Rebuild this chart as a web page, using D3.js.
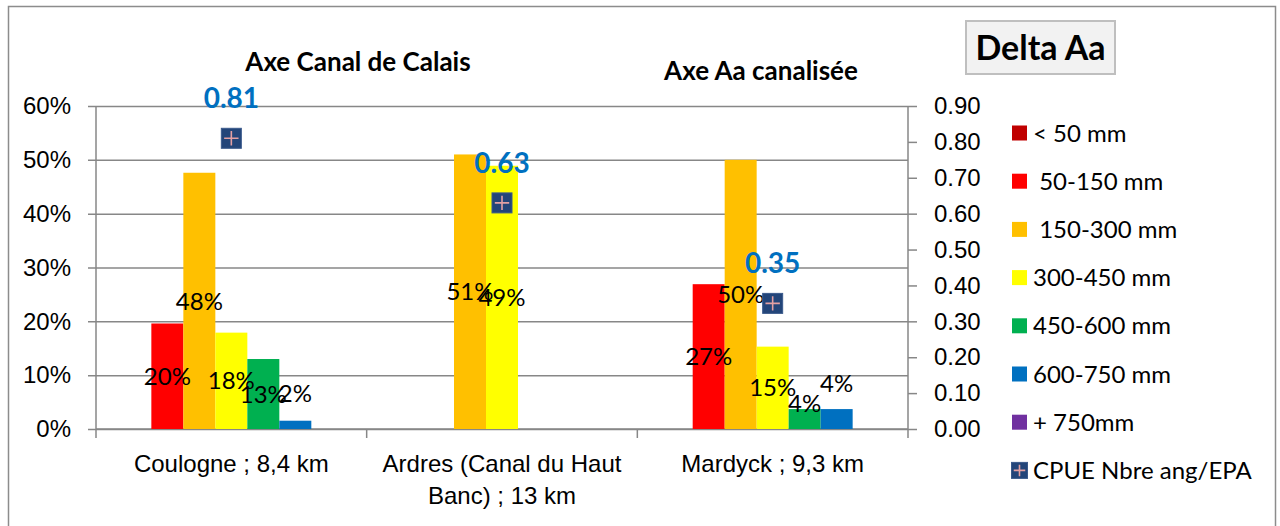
<!DOCTYPE html>
<html>
<head>
<meta charset="utf-8">
<script src="https://cdn.jsdelivr.net/npm/d3@7"></script>
<style>
  body { margin: 0; background: #fff; }
  svg { display: block; font-family: Lato, "Open Sans", sans-serif; }
  text { white-space: pre; }
</style>
</head>
<body>
<svg id="chart" width="1280" height="526"></svg>
<script>
// sites (categories)
const categories = ["Coulogne ; 8,4 km", "Ardres (Canal du Haut Banc) ; 13 km", "Mardyck ; 9,3 km"]
// size classes
const seriesNames = ["< 50 mm", " 50-150 mm", " 150-300 mm", "300-450 mm", "450-600 mm", "600-750 mm", "+ 750mm"]
const seriesColors = ["#C00000", "#FF0000", "#FFC000", "#FFFF00", "#00B050", "#0070C0", "#7030A0"]
// share of each size class, per site
const lt50 = [0, 0, 0]
const s50_150 = [0.196, 0, 0.269]
const s150_300 = [0.476, 0.51, 0.50]
const s300_450 = [0.179, 0.489, 0.153]
const s450_600 = [0.13, 0, 0.037]
const s600_750 = [0.0154, 0, 0.037]
const gt750 = [0, 0, 0]
const seriesValues = [lt50, s50_150, s150_300, s300_450, s450_600, s600_750, gt750]
// CPUE on the right axis
const cpueName = "CPUE Nbre ang/EPA"
const cpue = [0.81, 0.63, 0.35]
const leftTicks = [0, 0.1, 0.2, 0.3, 0.4, 0.5, 0.6]
const rightTicks = [0, 0.1, 0.2, 0.3, 0.4, 0.5, 0.6, 0.7, 0.8, 0.9]

const svg = d3.select("#chart")
const plot = {left: 96, right: 908, top: 106, bottom: 429}
const gridColor = "#878787"
const fontSize = "24px"

// chart frame
svg.append("rect")
    .attr("x", 8.5).attr("y", 6.5)
    .attr("width", 1267).attr("height", 540)
    .attr("fill", "#fff")
    .attr("stroke", "#8c8c8c")
    .attr("stroke-width", 1.5)

const x = d3.scaleBand()
    .domain(categories)
    .range([plot.left, plot.right])
const xSeries = d3.scaleBand()
    .domain(d3.range(seriesNames.length))
    .range([0, x.bandwidth()])
    .paddingOuter(0.73)
const y = d3.scaleLinear().domain([0, 0.6]).range([plot.bottom, plot.top])
const yRight = d3.scaleLinear().domain([0, 0.9]).range([plot.bottom, plot.top])

// gridlines + left axis
const leftAxis = d3.axisLeft(y)
    .tickValues(leftTicks)
    .tickFormat(d3.format(".0%"))
    .tickSize(-(plot.right - plot.left))
    .tickPadding(25)
const gLeft = svg.append("g")
    .attr("transform", `translate(${plot.left},0)`)
    .call(leftAxis)
gLeft.select(".domain").remove()
gLeft.selectAll(".tick line")
    .attr("x1", -8)
    .attr("stroke", gridColor)
    .attr("stroke-width", 1.5)
gLeft.selectAll(".tick text")
    .attr("fill", "#000")
    .style("font-size", fontSize)
svg.append("line")
    .attr("x1", plot.left).attr("x2", plot.left)
    .attr("y1", plot.top).attr("y2", plot.bottom)
    .attr("stroke", gridColor).attr("stroke-width", 1.5)

// right axis
const gRight = svg.append("g")
    .attr("transform", `translate(${plot.right},0)`)
    .call(d3.axisRight(yRight)
        .tickValues(rightTicks)
        .tickFormat(d3.format(".2f"))
        .tickSize(9)
        .tickPadding(17))
gRight.select(".domain")
    .attr("d", `M0,${plot.top}V${plot.bottom}`)
    .attr("stroke", gridColor).attr("stroke-width", 1.5)
gRight.selectAll(".tick line").attr("stroke", gridColor).attr("stroke-width", 1.5)
gRight.selectAll(".tick text")
    .attr("fill", "#000")
    .style("font-size", fontSize)

// x axis
const gBottom = svg.append("g")
    .attr("transform", `translate(0,${plot.bottom})`)
    .call(d3.axisBottom(x).tickSize(0).tickPadding(26))
gBottom.select(".domain")
    .attr("d", `M${plot.left},0H${plot.right}`)
    .attr("stroke", gridColor).attr("stroke-width", 1.5)
gBottom.selectAll(".tick text")
    .attr("fill", "#000")
    .style("font-size", fontSize)
    .each(function (d) {
        // wrap long site names on two lines
        const t = d3.select(this)
        const words = d.split(" ")
        t.text(null)
        let line = []
        let tspan = t.append("tspan").attr("x", 0).attr("dy", "0.71em")
        words.forEach(w => {
            line.push(w)
            tspan.text(line.join(" "))
            if (tspan.node().getComputedTextLength() > 250 && line.length > 1) {
                line.pop()
                tspan.text(line.join(" "))
                line = [w]
                tspan = t.append("tspan").attr("x", 0).attr("dy", "32px").text(w)
            }
        })
    })
svg.append("g")
    .selectAll("line")
    .data([plot.left, ...categories.map(c => x(c) + x.bandwidth())])
    .join("line")
    .attr("x1", d => d).attr("x2", d => d)
    .attr("y1", plot.bottom).attr("y2", plot.bottom + 9)
    .attr("stroke", gridColor).attr("stroke-width", 1.5)

// bars
const barData = []
seriesValues.forEach((vals, s) => {
    vals.forEach((v, c) => barData.push({s: s, c: c, v: v}))
})
svg.append("g")
    .selectAll("rect")
    .data(barData.filter(d => d.v > 0))
    .join("rect")
    .attr("x", d => x(categories[d.c]) + xSeries(d.s))
    .attr("width", xSeries.bandwidth())
    .attr("y", d => y(d.v))
    .attr("height", d => y(0) - y(d.v))
    .attr("fill", d => seriesColors[d.s])

// labels that were dragged up in the original
const labelShift = {"0-5": -31, "2-4": -16, "2-5": -36}
svg.append("g")
    .selectAll("text")
    .data(barData.filter(d => d.v > 0))
    .join("text")
    .attr("x", d => x(categories[d.c]) + xSeries(d.s) + xSeries.bandwidth() / 2)
    .attr("y", d => (y(d.v) + y(0)) / 2 + (labelShift[d.c + "-" + d.s] || 0))
    .attr("dy", "0.36em")
    .attr("text-anchor", "middle")
    .style("font-size", fontSize)
    .text(d => d3.format(".0%")(d.v))

// CPUE markers
const drawMarker = (g, cx, cy, size) => {
    g.append("rect")
        .attr("x", cx - size / 2).attr("y", cy - size / 2)
        .attr("width", size).attr("height", size)
        .attr("fill", "#234579")
        .attr("stroke", "#3b5a8c")
        .attr("stroke-width", 1)
    g.append("path")
        .attr("d", `M${cx - size * 0.36},${cy}H${cx + size * 0.36}M${cx},${cy - size * 0.36}V${cy + size * 0.36}`)
        .attr("stroke", "#E3A0A3")
        .attr("stroke-width", 1.6)
}
const cpueG = svg.append("g")
cpue.forEach((v, c) => {
    const cx = x(categories[c]) + x.bandwidth() / 2
    drawMarker(cpueG, cx, yRight(v), 20)
    cpueG.append("text")
        .attr("x", cx)
        .attr("y", yRight(v) - 30)
        .attr("text-anchor", "middle")
        .attr("fill", "#0070C0")
        .style("font-size", "28px")
        .style("font-weight", "bold")
        .text(d3.format(".2f")(v))
})

// titles
svg.append("text")
    .attr("x", 358).attr("y", 71)
    .attr("text-anchor", "middle")
    .style("font-size", "26px").style("font-weight", "bold")
    .text("Axe Canal de Calais")
svg.append("text")
    .attr("x", 761).attr("y", 80)
    .attr("text-anchor", "middle")
    .style("font-size", "26px").style("font-weight", "bold")
    .text("Axe Aa canalisée")

svg.append("rect")
    .attr("x", 966).attr("y", 21)
    .attr("width", 149).attr("height", 53)
    .attr("fill", "#F2F2F2")
    .attr("stroke", "#BFBFBF")
    .attr("stroke-width", 2)
svg.append("text")
    .attr("x", 1040.5).attr("y", 60)
    .attr("text-anchor", "middle")
    .style("font-size", "34px").style("font-weight", "bold")
    .text("Delta Aa")

// legend
const legend = svg.append("g").attr("transform", "translate(1012,133)")
seriesNames.forEach((name, i) => {
    legend.append("rect")
        .attr("x", 0).attr("y", i * 48.2 - 7.5)
        .attr("width", 15).attr("height", 15)
        .attr("fill", seriesColors[i])
    legend.append("text")
        .attr("x", 21).attr("y", i * 48.2)
        .attr("dy", "0.36em")
        .style("font-size", fontSize)
        .text(name)
})
drawMarker(legend, 7.5, 7 * 48.2, 16)
legend.append("text")
    .attr("x", 21).attr("y", 7 * 48.2)
    .attr("dy", "0.36em")
    .style("font-size", fontSize)
    .text(cpueName)
</script>
</body>
</html>
